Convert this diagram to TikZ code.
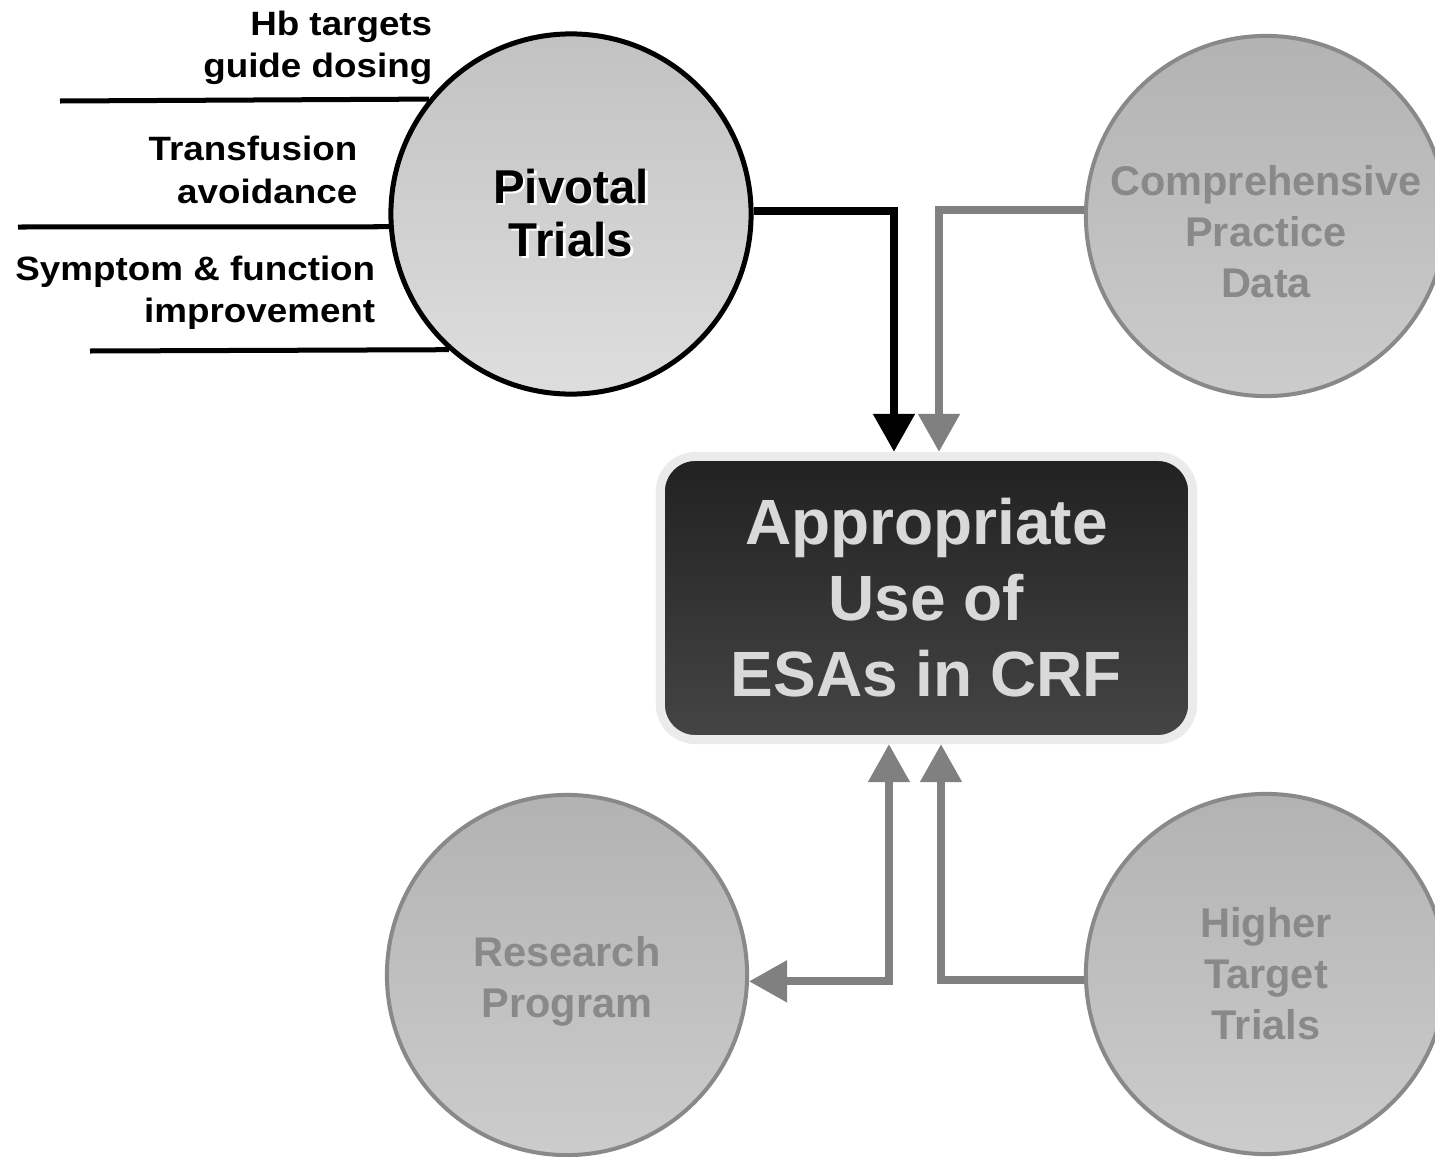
\documentclass[tikz,border=0pt]{standalone}
\usepackage{fontspec}
\setmainfont{Liberation Sans}
\usetikzlibrary{arrows.meta}
\definecolor{arrgray}{HTML}{808080}
\definecolor{rimgray}{HTML}{898989}
\definecolor{boxtext}{HTML}{D9D9D9}
\definecolor{boxrim}{HTML}{EBEBEB}
\newcommand{\shtext}[1]{\makebox[0pt][l]{\hspace{0.7pt}\raisebox{-0.7pt}{\color{white}#1}}#1}
\begin{document}
\begin{tikzpicture}[x=0.01cm, y=-0.01cm, every node/.style={font=\bfseries}]
        \useasboundingbox (0,0) rectangle (1435,1157);
        \clip (0,0) rectangle (1435,1157);
        \tikzstyle{src}=[circle, minimum size=3.6cm, inner sep=0pt, align=center]
        \tikzstyle{piv}=[src, draw=black, line width=0.05cm, top color=black!24, bottom color=black!13,
                font=\bfseries\fontsize{13.5}{15}\selectfont]
        \tikzstyle{dim}=[src, draw=rimgray, line width=0.04cm, top color=black!30, bottom color=black!20,
                text=rimgray, font=\bfseries\fontsize{11.8}{14.5}\selectfont]
        \tikzstyle{goal}=[rectangle, rounded corners=0.35cm, minimum width=5.32cm, minimum height=2.83cm,
                inner sep=0pt, align=center, draw=boxrim, line width=0.09cm, top color=black!87,
                bottom color=black!73, text=boxtext, font=\bfseries\fontsize{18.2}{21.6}\selectfont]
        \tikzstyle{lbl}=[align=right, anchor=east, inner sep=0pt, transform shape, xscale=1.09,
                font=\bfseries\fontsize{9.6}{12}\selectfont]

        % evidence sources
        \node[piv] (P) at (571,214) {\shtext{Pivotal}\\\shtext{Trials}};
        \node[dim] (C) at (1266,216) {\rule{0pt}{17.4pt}Comprehensive\\Practice\\Data};
        \node[dim] (R) at (567,975) {\rule{0pt}{12.3pt}Research\\Program};
        \node[dim] (H) at (1266,974) {Higher\\Target\\Trials};
        \node[goal] (B) at (926.5,598) {Appropriate\\Use of\\ESAs in CRF};

        % pivotal trial outcomes
        \node[lbl] (L1) at (433,48) {Hb targets\\guide dosing};
        \node[lbl] (L2) at (358,170) {Transfusion\\avoidance};
        \node[lbl] (L3) at (376,293) {Symptom \& function\\improvement};
        \coordinate (h1) at (60,101);
        \coordinate (h2) at (18,227);
        \coordinate (h3) at (90,351);
        \tikzstyle{rule}=[line width=0.05cm]
        \draw[rule] (h1) -- (P.141.75);
        \draw[rule] (h2) -- (P.184.1);
        \draw[rule] (h3) -- (P.228.6);

        \tikzstyle{tip}=[line width=0.08cm, -{Triangle[length=0.38cm,width=0.40cm]}]
        \draw[tip, black] (P.1) -| ([xshift=-0.325cm]B.north);
        \draw[tip, arrgray] (C.178.5) -| ([xshift=0.125cm]B.north);
        \draw[tip, arrgray, {Triangle[length=0.38cm,width=0.40cm]}-{Triangle[length=0.38cm,width=0.40cm]}]
                ([xshift=-0.375cm]B.south) |- (R.-2.5);
        \draw[tip, arrgray] (H.182.8) -| ([xshift=0.145cm]B.south);
    \end{tikzpicture}
\end{document}
